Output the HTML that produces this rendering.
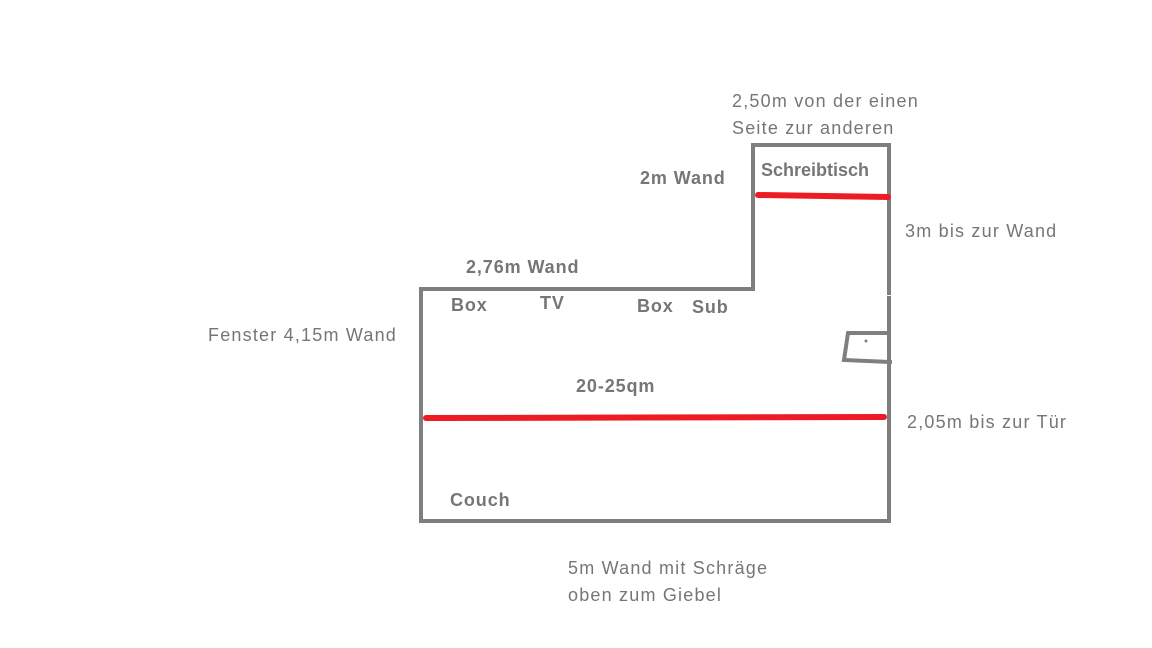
<!DOCTYPE html>
<html><head><meta charset="utf-8"><style>
body{margin:0;width:1152px;height:648px;background:#fff;overflow:hidden;position:relative;font-family:"Liberation Sans",sans-serif;color:#767676}
.t{position:absolute;font-size:18px;white-space:nowrap;line-height:27px;letter-spacing:1.2px}
.b{font-weight:bold;font-size:18px;letter-spacing:0.9px}
</style></head><body>
<svg width="1152" height="648" style="position:absolute;left:0;top:0">
<g stroke="#7f7f7f" stroke-width="4" fill="none" stroke-linecap="square">
<polyline points="421,521 421,289 753,289 753,145 889,145 889,293"/>
<polyline points="889,298 889,521 421,521"/>
<polyline points="889,333 848,333 844,360 890,362"/>
</g>
<circle cx="866" cy="341" r="1.5" fill="#7f7f7f"/>
<g stroke="#ed1c24" stroke-width="6" stroke-linecap="round">
<line x1="758" y1="195" x2="888" y2="197"/>
<line x1="426" y1="418" x2="884" y2="417"/>
</g>
</svg>
<div class="t" style="left:732px;top:88px">2,50m von der einen</div>
<div class="t" style="left:732px;top:115px">Seite zur anderen</div>
<div class="t b" style="left:761px;top:157px;letter-spacing:0">Schreibtisch</div>
<div class="t b" style="left:640px;top:165px">2m Wand</div>
<div class="t" style="left:905px;top:218px">3m bis zur Wand</div>
<div class="t b" style="left:466px;top:254px">2,76m Wand</div>
<div class="t b" style="left:451px;top:292px">Box</div>
<div class="t b" style="left:540px;top:290px">TV</div>
<div class="t b" style="left:637px;top:293px">Box</div>
<div class="t b" style="left:692px;top:294px">Sub</div>
<div class="t" style="left:208px;top:322px">Fenster 4,15m Wand</div>
<div class="t b" style="left:576px;top:373px">20-25qm</div>
<div class="t" style="left:907px;top:409px">2,05m bis zur Tür</div>
<div class="t b" style="left:450px;top:487px">Couch</div>
<div class="t" style="left:568px;top:555px">5m Wand mit Schräge</div>
<div class="t" style="left:568px;top:582px">oben zum Giebel</div>
</body></html>
